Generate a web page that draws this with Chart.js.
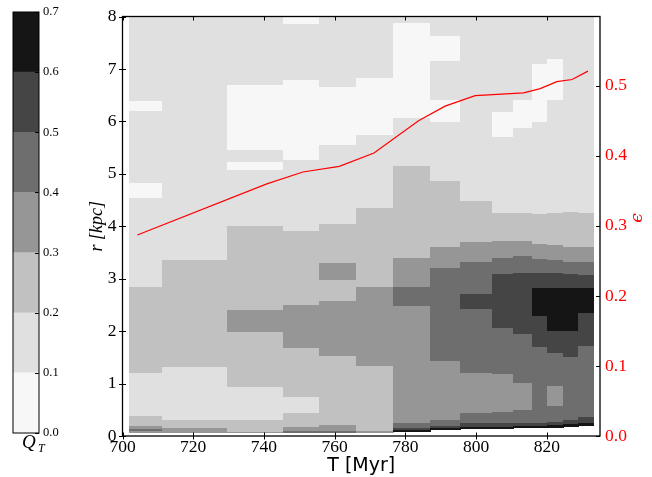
<!DOCTYPE html>
<html>
<head>
<meta charset="utf-8">
<script src="https://cdn.jsdelivr.net/npm/chart.js@4.4.1/dist/chart.umd.min.js"></script>
<style>
  html, body { margin: 0; padding: 0; background: #fff; }
  #wrap { position: relative; width: 652px; height: 477px; }
  #cbar { position: absolute; left: 0; top: 0; }
  #main { position: absolute; left: 80px; top: 0; }
</style>
</head>
<body>
<div id="wrap">
  <canvas id="cbar" width="80" height="477"></canvas>
  <canvas id="main" width="572" height="477"></canvas>
</div>
<script>
// Q_T contour levels and the grey used between them
const qLevels = [0.0, 0.1, 0.2, 0.3, 0.4, 0.5, 0.6, 0.7];
const qColors = ["#f7f7f7", "#e0e0e0", "#c1c1c1", "#969696", "#6e6e6e", "#454545", "#151515"];

// time edges of the snapshot columns [Myr]
const tEdges = [701.8, 711.1, 729.6, 745.4, 755.6, 766.1, 776.5, 787.0, 795.5, 804.5, 810.5, 815.8, 820.1, 824.6, 828.9, 833.1];

// one list per column : [r where the band starts going down, level index], -1 = no fill
const qColumns = [
  [[8, 1], [6.39, 0], [6.2, 1], [4.83, 0], [4.53, 1], [2.85, 2], [1.21, 1], [0.38, 2], [0.19, 3], [0.14, 4], [0.1, 3], [0.05, -1]],
  [[8, 1], [3.35, 2], [1.31, 1], [0.3, 2], [0.145, 3], [0.05, -1]],
  [[8, 1], [6.69, 0], [5.46, 1], [5.22, 0], [5.07, 1], [4.01, 2], [2.41, 3], [1.99, 2], [0.93, 1], [0.3, 2], [0.08, 3], [0.05, -1]],
  [[8, 0], [7.85, 1], [6.78, 0], [5.26, 1], [3.91, 2], [2.5, 3], [1.68, 2], [0.74, 1], [0.43, 2], [0.18, 3], [0.1, 4], [0.05, -1]],
  [[8, 1], [6.65, 0], [5.55, 1], [4.04, 2], [3.29, 3], [2.98, 2], [2.57, 3], [1.53, 2], [0.21, 3], [0.1, 4], [0.05, -1]],
  [[8, 1], [6.83, 0], [5.74, 1], [4.34, 2], [2.85, 3], [1.34, 2], [0.1, 3], [0.06, -1]],
  [[8, 1], [7.87, 0], [6.06, 1], [5.15, 2], [3.4, 3], [2.85, 4], [2.47, 3], [0.24, 4], [0.145, 5], [0.11, 6], [0.08, -1]],
  [[8, 1], [7.63, 0], [7.16, 1], [6.4, 0], [5.99, 1], [4.87, 2], [3.6, 3], [3.21, 4], [1.43, 3], [0.31, 4], [0.19, 5], [0.145, 6], [0.11, -1]],
  [[8, 1], [4.48, 2], [3.7, 3], [3.32, 4], [2.7, 5], [2.43, 4], [1.21, 3], [0.43, 4], [0.24, 5], [0.17, 6], [0.13, -1]],
  [[8, 1], [6.18, 0], [5.71, 1], [4.26, 2], [3.71, 3], [3.4, 4], [3.08, 5], [2.06, 4], [1.18, 3], [0.46, 4], [0.25, 5], [0.17, 6], [0.13, -1]],
  [[8, 1], [6.4, 0], [5.87, 1], [4.25, 2], [3.71, 3], [3.43, 4], [3.1, 5], [1.94, 4], [1.02, 3], [0.49, 4], [0.25, 5], [0.19, 6], [0.145, -1]],
  [[8, 1], [7.09, 0], [5.99, 1], [4.23, 2], [3.67, 3], [3.38, 4], [3.1, 5], [2.82, 6], [2.28, 5], [1.7, 4], [0.25, 5], [0.19, 6], [0.145, -1]],
  [[8, 1], [7.19, 0], [6.4, 1], [4.26, 2], [3.64, 3], [3.35, 4], [3.1, 5], [2.82, 6], [2.0, 5], [1.59, 4], [0.96, 3], [0.58, 4], [0.27, 5], [0.21, 6], [0.16, -1]],
  [[8, 1], [4.28, 2], [3.6, 3], [3.32, 4], [3.08, 5], [2.82, 6], [2.0, 5], [1.5, 4], [0.31, 5], [0.23, 6], [0.18, -1]],
  [[8, 1], [4.25, 2], [3.6, 3], [3.31, 4], [3.07, 5], [2.82, 6], [2.35, 5], [1.72, 4], [0.36, 5], [0.25, 6], [0.19, -1]]
];

// red line : epsilon against time
const epsT = [704.2, 740.8, 751.0, 761.3, 771.1, 783.7, 791.2, 799.7, 813.4, 818.1, 822.8, 827.1, 831.6];
const epsVal = [0.287, 0.360, 0.377, 0.385, 0.404, 0.450, 0.471, 0.486, 0.490, 0.496, 0.506, 0.509, 0.521];

const serif = "'Liberation Serif', 'DejaVu Serif', serif";

// ---------- colorbar ----------
const cbarPlugin = {
  id: "cbarFrame",
  afterDraw(chart) {
    const { ctx, chartArea: a, scales: { y } } = chart;
    ctx.save();
    ctx.strokeStyle = "#000";
    ctx.lineWidth = 1;
    y.ticks.forEach((t) => {
      const py = Math.round(y.getPixelForValue(t.value)) + 0.5;
      ctx.beginPath();
      ctx.moveTo(a.right - 4, py);
      ctx.lineTo(a.right, py);
      ctx.stroke();
    });
    ctx.strokeRect(a.left, a.top, a.right - a.left, a.bottom - a.top);
    // Q_T label
    ctx.fillStyle = "#000";
    ctx.textBaseline = "alphabetic";
    ctx.font = "italic 19px " + serif;
    ctx.fillText("Q", 22, 448);
    ctx.font = "italic 12px " + serif;
    ctx.fillText("T", 38, 452);
    ctx.restore();
  }
};

new Chart(document.getElementById("cbar"), {
  type: "bar",
  data: {
    labels: [""],
    datasets: qColors.map((c, i) => ({
      data: [[qLevels[i], qLevels[i + 1]]],
      backgroundColor: c,
      borderWidth: 0,
      barPercentage: 1,
      categoryPercentage: 1
    }))
  },
  options: {
    responsive: false,
    animation: false,
    layout: { padding: { left: 13, right: 0, top: 12, bottom: 44 } },
    plugins: { legend: { display: false }, tooltip: { enabled: false } },
    scales: {
      x: { display: false, stacked: true },
      y: {
        position: "right",
        min: 0,
        max: 0.7,
        grid: { display: false, drawTicks: false },
        border: { display: false },
        ticks: {
          stepSize: 0.1,
          padding: 4,
          color: "#000",
          font: { family: serif, size: 12.5 },
          callback: (v) => v.toFixed(1)
        },
        afterFit(s) { s.width = 41; }
      }
    }
  },
  plugins: [cbarPlugin]
});

// ---------- main panel ----------
const contourPlugin = {
  id: "contour",
  beforeDatasetsDraw(chart) {
    const { ctx, scales: { x, y } } = chart;
    ctx.save();
    qColumns.forEach((col, i) => {
      const x0 = Math.round(x.getPixelForValue(tEdges[i]));
      const x1 = Math.round(x.getPixelForValue(tEdges[i + 1]));
      col.forEach(([rTop, lev], j) => {
        if (lev < 0) return;
        const rBot = j + 1 < col.length ? col[j + 1][0] : 0;
        const y0 = Math.round(y.getPixelForValue(rTop));
        const y1 = Math.round(y.getPixelForValue(rBot));
        ctx.fillStyle = qColors[lev];
        ctx.fillRect(x0, y0, x1 - x0 + 1, y1 - y0);
      });
    });
    ctx.restore();
  },
  afterDraw(chart) {
    const { ctx, chartArea: a, scales: { x, y, y2 } } = chart;
    ctx.save();
    ctx.strokeStyle = "#000";
    ctx.lineWidth = 1;
    const line = (x0, y0, x1, y1) => {
      ctx.beginPath();
      ctx.moveTo(x0, y0);
      ctx.lineTo(x1, y1);
      ctx.stroke();
    };
    x.ticks.forEach((t) => {
      const px = Math.round(x.getPixelForValue(t.value)) + 0.5;
      line(px, a.bottom - 3.5, px, a.bottom + 3.5);
      line(px, a.top, px, a.top + 4);
    });
    y.ticks.forEach((t) => {
      const py = Math.round(y.getPixelForValue(t.value)) + 0.5;
      line(a.left - 3.5, py, a.left + 3.5, py);
    });
    y2.ticks.forEach((t) => {
      const py = Math.round(y2.getPixelForValue(t.value)) + 0.5;
      line(a.right - 4, py, a.right, py);
    });
    ctx.lineWidth = 1.3;
    ctx.strokeRect(a.left, a.top, a.right - a.left, a.bottom - a.top);
    // right axis label (epsilon), turned like matplotlib does it
    ctx.fillStyle = "red";
    ctx.font = "italic 17px 'DejaVu Serif', serif";
    ctx.textAlign = "center";
    ctx.textBaseline = "middle";
    ctx.translate(557.5, 218);
    ctx.rotate(-Math.PI / 2);
    ctx.fillText("\u03f5", 0, 0);
    ctx.restore();
  }
};

new Chart(document.getElementById("main"), {
  type: "line",
  data: {
    datasets: [
      {
        label: "epsilon",
        data: epsT.map((t, i) => ({ x: t, y: epsVal[i] })),
        xAxisID: "x",
        yAxisID: "y2",
        borderColor: "red",
        borderWidth: 1.2,
        pointRadius: 0,
        tension: 0,
        fill: false
      }
    ]
  },
  options: {
    responsive: false,
    animation: false,
    layout: { padding: { left: 0, right: 0, top: 12, bottom: 0 } },
    plugins: { legend: { display: false }, tooltip: { enabled: false } },
    scales: {
      x: {
        type: "linear",
        min: 700,
        max: 835,
        grid: { display: false, drawTicks: false },
        border: { display: false },
        ticks: {
          stepSize: 20,
          includeBounds: false,
          padding: 1,
          color: "#000",
          font: { family: serif, size: 17.5 },
          callback: (v) => String(v)
        },
        title: {
          display: true,
          text: "T [Myr]",
          color: "#000",
          font: { family: "'DejaVu Sans', sans-serif", size: 19 },
          padding: { top: 0, bottom: 0 }
        },
        afterFit(s) { s.height = 41; }
      },
      y: {
        position: "left",
        min: 0,
        max: 8,
        grid: { display: false, drawTicks: false },
        border: { display: false },
        ticks: {
          stepSize: 1,
          padding: 6,
          color: "#000",
          font: { family: serif, size: 17.5 }
        },
        title: {
          display: true,
          text: "r [kpc]",
          color: "#000",
          font: { family: serif, size: 18, style: "italic" },
          padding: { top: 6, bottom: 0 }
        },
        afterFit(s) { s.width = 42.5; }
      },
      y2: {
        position: "right",
        min: 0,
        max: 0.599,
        grid: { display: false, drawTicks: false },
        border: { display: false },
        ticks: {
          stepSize: 0.1,
          includeBounds: false,
          padding: 5,
          color: "red",
          font: { family: serif, size: 17.5 },
          callback: (v) => v.toFixed(1)
        },
        afterFit(s) { s.width = 52; }
      }
    }
  },
  plugins: [contourPlugin]
});
</script>
</body>
</html>
